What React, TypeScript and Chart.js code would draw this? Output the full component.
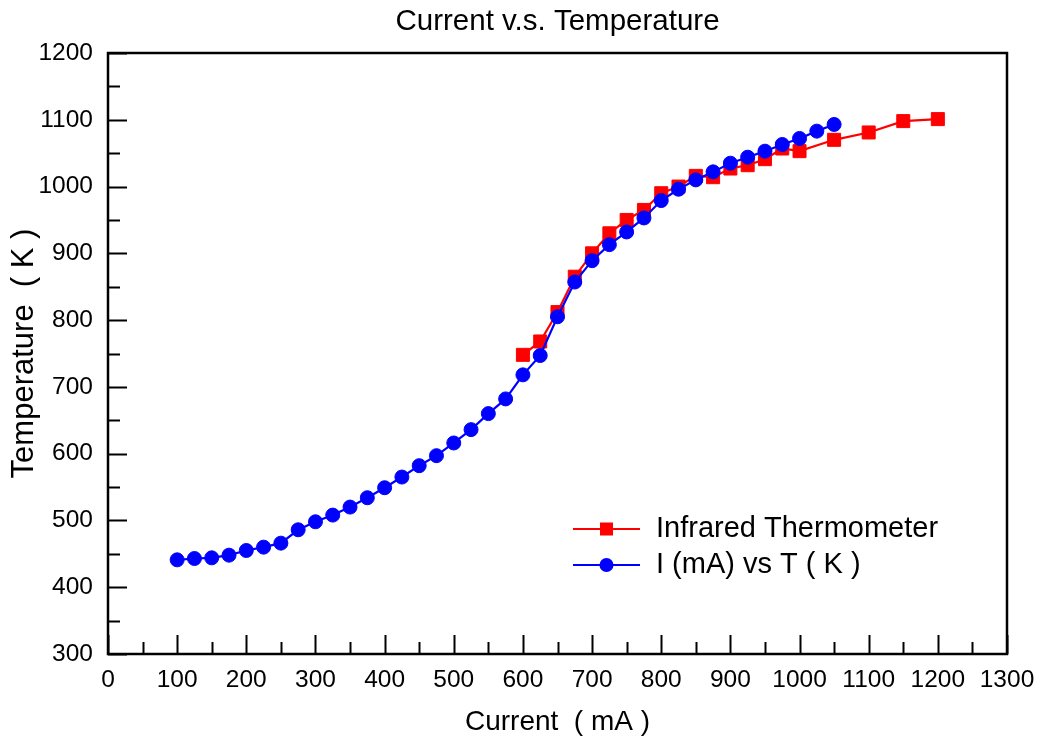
import React, { useEffect, useRef } from "react";
import { Chart, registerables } from "chart.js";

Chart.register(...registerables);

// ---- data ----
const blueCurrent = [
  100, 125, 150, 175, 200, 225, 250, 275, 300, 325, 350, 375, 400, 425, 450,
  475, 500, 525, 550, 575, 600, 625, 650, 675, 700, 725, 750, 775, 800, 825,
  850, 875, 900, 925, 950, 975, 1000, 1025, 1050,
];
const blueTemp = [
  441, 443, 444, 448, 455, 460, 466, 486, 498, 508, 520, 534, 549, 565, 582,
  597, 616, 636, 660, 682, 718, 747, 805, 857, 889, 913, 932, 953, 979, 996,
  1010, 1022, 1035, 1044, 1053, 1063, 1072, 1083, 1093,
];
const redCurrent = [
  600, 625, 650, 675, 700, 725, 750, 775, 800, 825, 850, 875, 900, 925, 950,
  975, 1000, 1050, 1100, 1150, 1200,
];
const redTemp = [
  748, 768, 812, 865, 900, 930, 950, 965, 990, 1000, 1016, 1014, 1027, 1032,
  1041, 1057, 1053, 1070, 1081, 1098, 1101,
];
const redLabel = "Infrared Thermometer";
const blueLabel = "I (mA) vs T ( K )";
const chartTitle = "Current v.s. Temperature";
const xTitle = "Current  ( mA )";
const yTitle = "Temperature  ( K )";
const xRange = [0, 1300];
const yRange = [300, 1200];

const FONT = "'Liberation Sans', Arial, sans-serif";

const frameTicks = {
  id: "frameTicks",
  afterDatasetsDraw(chart: any) {
    const { ctx, chartArea: a, scales } = chart;
    const x = scales.x;
    const y = scales.y;
    ctx.save();
    ctx.strokeStyle = "#000";
    ctx.lineWidth = 2;
    ctx.beginPath();
    for (let v = xRange[0]; v <= xRange[1]; v += 50) {
      const px = Math.round(x.getPixelForValue(v)) + 0.5;
      const len = v % 100 === 0 ? 19 : 12;
      ctx.moveTo(px, a.bottom);
      ctx.lineTo(px, a.bottom - len);
    }
    for (let v = yRange[0]; v <= yRange[1]; v += 50) {
      const py = Math.round(y.getPixelForValue(v)) + 0.5;
      const len = v % 100 === 0 ? 19 : 12;
      ctx.moveTo(a.left, py);
      ctx.lineTo(a.left + len, py);
    }
    ctx.stroke();
    ctx.lineWidth = 2.5;
    ctx.strokeRect(a.left, a.top, a.right - a.left, a.bottom - a.top);
    ctx.restore();
  },
};

const customLegend = {
  id: "customLegend",
  afterDraw(chart: any) {
    const { ctx, chartArea: a } = chart;
    const ds = chart.data.datasets;
    const order = [1, 0];
    const x0 = a.left + 465;
    const x1 = a.left + 532;
    const tx = a.left + 548;
    const rows = [529, 565];
    ctx.save();
    order.forEach((idx, i) => {
      const d = ds[idx];
      const yy = rows[i];
      ctx.strokeStyle = d.borderColor;
      ctx.lineWidth = 2;
      ctx.beginPath();
      ctx.moveTo(x0, yy);
      ctx.lineTo(x1, yy);
      ctx.stroke();
      ctx.fillStyle = d.backgroundColor;
      const cx = (x0 + x1) / 2;
      if (d.pointStyle === "rect") {
        ctx.fillRect(cx - 6.5, yy - 6.5, 13, 13);
      } else {
        ctx.beginPath();
        ctx.arc(cx, yy, 7, 0, Math.PI * 2);
        ctx.fill();
      }
      ctx.fillStyle = "#000";
      ctx.font = `29px ${FONT}`;
      ctx.textAlign = "left";
      ctx.textBaseline = "middle";
      ctx.fillText(d.label, tx, yy);
    });
    ctx.restore();
  },
};

export default function App() {
  const ref = useRef<HTMLCanvasElement>(null);
  useEffect(() => {
    if (!ref.current) return;
    const chart = new Chart(ref.current, {
      type: "line",
      data: {
        datasets: [
          {
            label: blueLabel,
            data: blueCurrent.map((c, i) => ({ x: c, y: blueTemp[i] })),
            borderColor: "#0000ff",
            backgroundColor: "#0000ff",
            borderWidth: 2.2,
            pointStyle: "circle",
            pointRadius: 7,
            pointBorderWidth: 1,
            tension: 0,
          },
          {
            label: redLabel,
            data: redCurrent.map((c, i) => ({ x: c, y: redTemp[i] })),
            borderColor: "#ff0000",
            backgroundColor: "#ff0000",
            borderWidth: 2.2,
            pointStyle: "rect",
            pointRadius: 9.2,
            pointBorderWidth: 1,
            tension: 0,
          },
        ],
      },
      options: {
        responsive: false,
        animation: false,
        layout: { padding: { left: 0, right: 42, top: 0, bottom: 0 } },
        plugins: {
          legend: { display: false },
          tooltip: { enabled: false },
          title: {
            display: true,
            fullSize: false,
            text: chartTitle,
            color: "#000",
            font: { family: FONT, size: 29.5, weight: "normal" },
            padding: { top: 4.3, bottom: 13.3 },
          },
        },
        scales: {
          x: {
            type: "linear",
            min: xRange[0],
            max: xRange[1],
            grid: { display: false, drawTicks: false },
            border: { display: false },
            ticks: {
              stepSize: 100,
              padding: 12,
              color: "#000",
              maxRotation: 0,
              autoSkip: false,
              font: { family: FONT, size: 24.5 },
              callback: (v: any) => String(v),
            },
            title: {
              display: true,
              text: xTitle,
              color: "#000",
              font: { family: FONT, size: 28 },
              padding: { top: 0, bottom: 3 },
            },
            afterFit: (s: any) => {
              s.height = 88;
            },
          },
          y: {
            type: "linear",
            min: yRange[0],
            max: yRange[1],
            grid: { display: false, drawTicks: false },
            border: { display: false },
            ticks: {
              stepSize: 100,
              padding: 15,
              color: "#000",
              font: { family: FONT, size: 24.5 },
              callback: (v: any) => String(v),
            },
            title: {
              display: true,
              text: yTitle,
              color: "#000",
              font: { family: FONT, size: 31 },
              padding: { top: 6, bottom: 0 },
            },
            afterFit: (s: any) => {
              s.width = 108;
            },
          },
        },
      },
      plugins: [frameTicks, customLegend],
    });
    return () => chart.destroy();
  }, []);
  return (
    <div style={{ position: "fixed", left: 0, top: 0, width: 1049, height: 742, background: "#fff" }}>
      <canvas ref={ref} width={1049} height={742} style={{ display: "block" }} />
    </div>
  );
}
